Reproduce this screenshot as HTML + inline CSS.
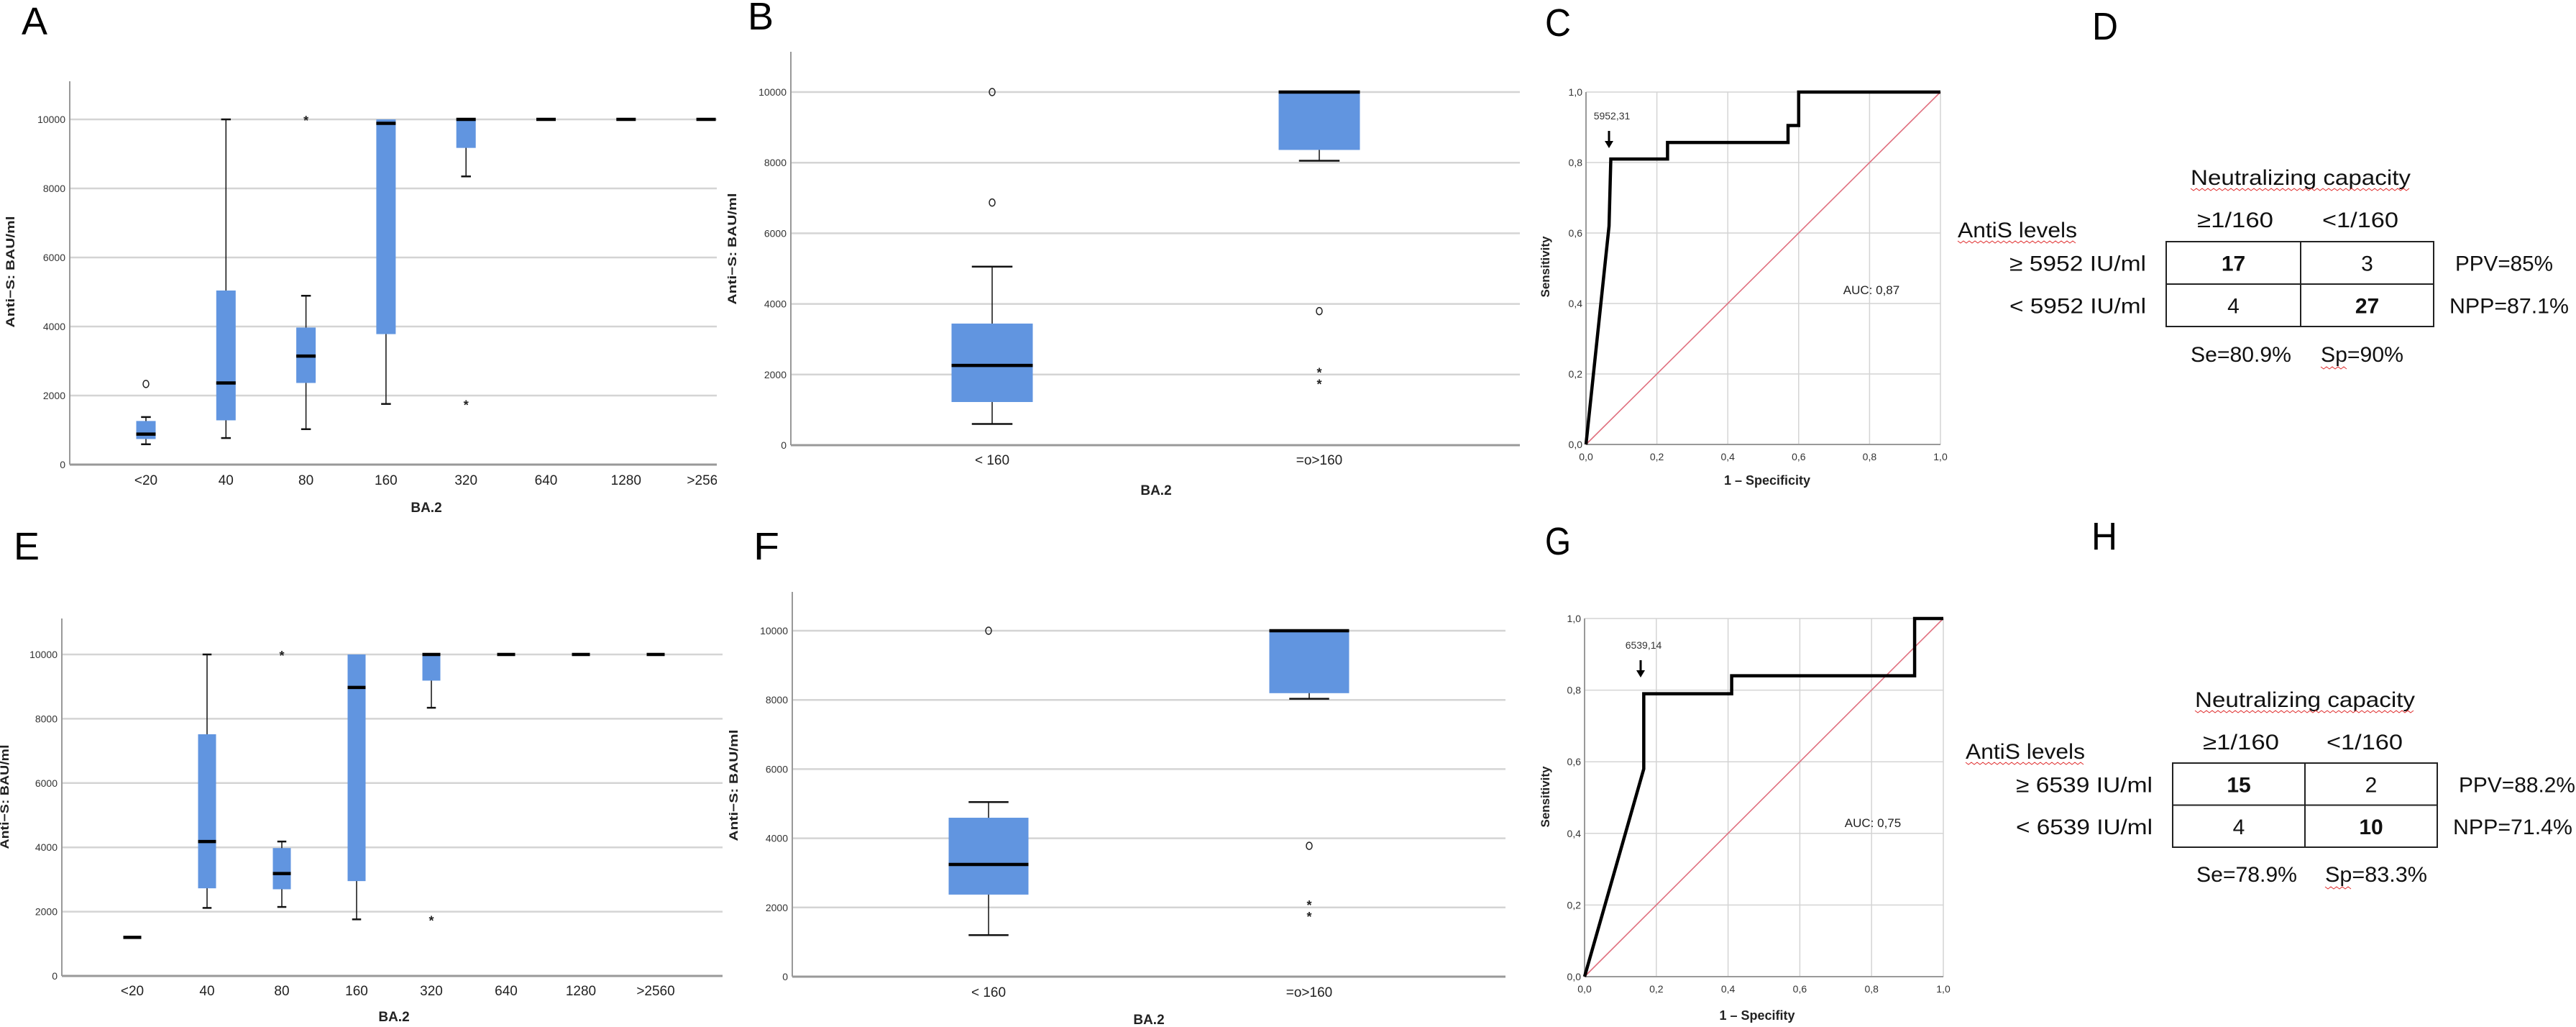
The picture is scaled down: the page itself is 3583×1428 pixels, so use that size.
<!DOCTYPE html>
<html><head><meta charset="utf-8"><title>Anti-S vs neutralizing capacity</title>
<style>
html,body{margin:0;padding:0;background:#fff;}
svg{display:block;font-family:"Liberation Sans",sans-serif;}
</style></head>
<body>
<svg id="fig" xmlns="http://www.w3.org/2000/svg" width="3583" height="1428" viewBox="0 0 3583 1428">
<defs><clipPath id="clipA"><rect x="0" y="0" width="997" height="714"/></clipPath></defs>
</svg>
<script>
// ---------- Data: Panel A (BA.2 titre categories, top row) ----------
const A_cats = ["<20","40","80","160","320","640","1280",">2560"];
const A_low  = [589, 769, 1026, 1757, 8348, 10000, 10000, 10000];
const A_q1   = [741, 1282, 2365, 3780, 9174, 10000, 10000, 10000];
const A_med  = [883, 2365, 3143, 9886, 10000, 10000, 10000, 10000];
const A_q3   = [1263, 5043, 3970, 10000, 10000, 10000, 10000, 10000];
const A_high = [1377, 10000, 4891, 10000, 10000, 10000, 10000, 10000];
const A_outCat = [0, 2, 4];
const A_outVal = [2336, 10000, 1757];
const A_outType = ["o", "*", "*"];
// ---------- Panel B ----------
const B_cats = ["< 160", "=o>160"];
const B_low  = [602, 8055];
const B_q1   = [1222, 8361];
const B_med  = [2259, 10000];
const B_q3   = [3444, 10000];
const B_high = [5055, 10000];
const B_outCat = [0, 0, 1, 1, 1];
const B_outVal = [10000, 6870, 3796, 2083, 1759];
const B_outType = ["o", "o", "o", "*", "*"];
// ---------- Panel C (ROC) ----------
const C_fpr = [0, 0.065, 0.07, 0.23, 0.23, 0.57, 0.57, 0.60, 0.60, 1.0];
const C_tpr = [0, 0.62, 0.81, 0.81, 0.857, 0.857, 0.905, 0.905, 1.0, 1.0];
// ---------- Panel E ----------
const E_cats = ["<20","40","80","160","320","640","1280",">2560"];
const E_low  = [1200, 2116, 2146, 1760, 8342, 10000, 10000, 10000];
const E_q1   = [1200, 2726, 2696, 2950, 9186, 10000, 10000, 10000];
const E_med  = [1200, 4181, 3184, 8973, 10000, 10000, 10000, 10000];
const E_q3   = [1200, 7518, 3978, 10000, 10000, 10000, 10000, 10000];
const E_high = [1200, 10000, 4181, 10000, 10000, 10000, 10000, 10000];
const E_outCat = [2, 4];
const E_outVal = [10000, 1760];
const E_outType = ["*", "*"];
// ---------- Panel F ----------
const F_cats = ["< 160", "=o>160"];
const F_low  = [1200, 8034];
const F_q1   = [2372, 8195];
const F_med  = [3242, 10000];
const F_q3   = [4594, 10000];
const F_high = [5047, 10000];
const F_outCat = [0, 1, 1, 1];
const F_outVal = [10000, 3781, 2098, 1767];
const F_outType = ["o", "o", "*", "*"];
// ---------- Panel G (ROC) ----------
const G_fpr = [0, 0.165, 0.165, 0.41, 0.41, 0.92, 0.92, 1.0];
const G_tpr = [0, 0.58, 0.79, 0.79, 0.84, 0.84, 1.0, 1.0];
// ---------- Y ticks ----------
const boxTicks = [0, 2000, 4000, 6000, 8000, 10000];
const rocTicks = [0, 0.2, 0.4, 0.6, 0.8, 1.0];
const rocTickLabels = ["0,0","0,2","0,4","0,6","0,8","1,0"];

const NS = "http://www.w3.org/2000/svg";
const svg = document.getElementById("fig");
function mk(tag, attrs, name, parent) {
  const el = document.createElementNS(NS, tag);
  for (const k in attrs) el.setAttribute(k, attrs[k]);
  
  
  (parent || svg).appendChild(el);
  return el;
}
function txt(x, y, s, attrs, name, parent) {
  const el = mk("text", Object.assign({x: x, y: y}, attrs), name, parent);
  el.textContent = s;
  return el;
}
const BLUE = "#6195e0", GRID = "#d4d4d4";

function boxPanel(p, d) {
  const g = mk("g", {}, p.name);
  const yS = v => p.y0 + (p.y10 - p.y0) * v / 10000;
  const xS = i => p.xStart + i * p.step;
  // gridlines
  boxTicks.forEach(t => {
    if (t > 0) mk("line", {x1: p.ax, x2: p.right, y1: yS(t), y2: yS(t), stroke: GRID, "stroke-width": 2.5}, "gridline-" + t, g);
    txt(p.ax - 6, yS(t) + 5, String(t), {"font-size": 14, fill: "#333", "text-anchor": "end"}, "y-tick-" + t, g);
  });
  mk("line", {x1: p.ax, x2: p.ax, y1: p.top, y2: p.y0, stroke: "#999", "stroke-width": 2}, "y-axis", g);
  mk("line", {x1: p.ax, x2: p.right, y1: p.y0, y2: p.y0, stroke: "#999", "stroke-width": 3}, "x-axis", g);
  d.cats.forEach((c, i) => {
    const cx = xS(i), w = p.bw;
    mk("line", {x1: cx, x2: cx, y1: yS(d.low[i]), y2: yS(d.high[i]), stroke: "#111", "stroke-width": 1.5}, "whisker-" + i, g);
    if (d.high[i] > d.q3[i]) mk("line", {x1: cx - w * 0.25, x2: cx + w * 0.25, y1: yS(d.high[i]), y2: yS(d.high[i]), stroke: "#111", "stroke-width": 2.5}, "cap-high-" + i, g);
    if (d.low[i] < d.q1[i]) mk("line", {x1: cx - w * 0.25, x2: cx + w * 0.25, y1: yS(d.low[i]), y2: yS(d.low[i]), stroke: "#111", "stroke-width": 2.5}, "cap-low-" + i, g);
    mk("rect", {x: cx - w / 2, y: yS(d.q3[i]), width: w, height: Math.max(0, yS(d.q1[i]) - yS(d.q3[i])), fill: BLUE}, "box-" + i, g);
    mk("line", {x1: cx - w / 2, x2: cx + w / 2, y1: yS(d.med[i]), y2: yS(d.med[i]), stroke: "#000", "stroke-width": 4.5}, "median-" + i, g);
    const lab = txt(cx, p.labY, c, {"font-size": 19, fill: "#222", "text-anchor": "middle"}, "x-label-" + i, g);
    if (p.clip) lab.setAttribute("clip-path", "url(#clipA)");
  });
  d.outCat.forEach((ci, k) => {
    const cx = xS(ci), cy = yS(d.outVal[k]);
    if (d.outType[k] === "o") mk("ellipse", {cx: cx, cy: cy, rx: 4, ry: 5, fill: "none", stroke: "#222", "stroke-width": 1.5}, "outlier-" + k, g);
    else txt(cx, cy + 8, "*", {"font-size": 18, "text-anchor": "middle", fill: "#222", "font-weight": "bold"}, "extreme-" + k, g);
  });
  txt(p.titleX, p.titleY, "BA.2", {"font-size": 19, "text-anchor": "middle", fill: "#222", "font-weight": "bold"}, "x-axis-title", g);
  txt(0, 0, "Anti\u2212S:  BAU/ml", {"font-size": 17, "font-weight": "bold", fill: "#222", "text-anchor": "middle",
    transform: "translate(" + p.ytX + "," + p.ytY + ") rotate(-90)", "textLength": p.ytLen, "lengthAdjust": "spacingAndGlyphs"}, "y-axis-title", g);
}

function rocPanel(p, fpr, tpr) {
  const g = mk("g", {}, p.name);
  const xS = v => p.x0 + (p.x1 - p.x0) * v;
  const yS = v => p.y0 + (p.y1 - p.y0) * v;
  rocTicks.forEach((t, i) => {
    if (t > 0) {
      mk("line", {x1: xS(t), x2: xS(t), y1: yS(0), y2: yS(1), stroke: GRID, "stroke-width": 1.5}, "v-grid-" + i, g);
      mk("line", {x1: xS(0), x2: xS(1), y1: yS(t), y2: yS(t), stroke: GRID, "stroke-width": 1.5}, "h-grid-" + i, g);
    }
    txt(xS(0) - 5, yS(t) + 5, rocTickLabels[i], {"font-size": 14, fill: "#333", "text-anchor": "end"}, "y-tick-" + i, g);
    txt(xS(t), p.tickY, rocTickLabels[i], {"font-size": 14, fill: "#333", "text-anchor": "middle"}, "x-tick-" + i, g);
  });
  mk("line", {x1: xS(0), x2: xS(0), y1: yS(0), y2: yS(1), stroke: "#999", "stroke-width": 2}, "y-axis", g);
  mk("line", {x1: xS(0), x2: xS(1), y1: yS(0), y2: yS(0), stroke: "#999", "stroke-width": 2}, "x-axis", g);
  mk("line", {x1: xS(0), y1: yS(0), x2: xS(1), y2: yS(1), stroke: "#e0707f", "stroke-width": 1.6}, "reference-line", g);
  mk("polyline", {points: fpr.map((f, i) => xS(f) + "," + yS(tpr[i])).join(" "), fill: "none", stroke: "#000", "stroke-width": 4.5, "stroke-linejoin": "miter"}, "roc-curve", g);
  txt(p.annX, p.annY, p.ann, {"font-size": 14, fill: "#333", "text-anchor": "middle"}, "cutoff-label", g);
  mk("line", {x1: p.annX - 4, x2: p.annX - 4, y1: p.annY + 16, y2: p.annY + 32, stroke: "#000", "stroke-width": 3}, "cutoff-arrow-shaft", g);
  mk("polygon", {points: (p.annX - 10) + "," + (p.annY + 30) + " " + (p.annX + 2) + "," + (p.annY + 30) + " " + (p.annX - 4) + "," + (p.annY + 40), fill: "#000"}, "cutoff-arrow-head", g);
  txt(p.aucX, p.aucY, p.auc, {"font-size": 17, fill: "#222", "text-anchor": "middle"}, "auc-label", g);
  txt(p.xtX, p.xtY, p.xt, {"font-size": 18, "font-weight": "bold", fill: "#222", "text-anchor": "middle"}, "x-axis-title", g);
  txt(0, 0, "Sensitivity", {"font-size": 17, "font-weight": "bold", fill: "#222", "text-anchor": "middle",
    transform: "translate(" + p.ytX + "," + p.ytY + ") rotate(-90)"}, "y-axis-title", g);
}

function tablePanel(p) {
  const g = mk("g", {}, p.name);
  const F = {"font-size": 30, fill: "#111"};
  const sq = (x1, x2, y, nm) => {
    let pts = [];
    for (let x = x1, k = 0; x <= x2; x += 4, k++) pts.push(x + "," + (y + (k % 2 ? 2 : -1)));
    mk("polyline", {points: pts.join(" "), fill: "none", stroke: "#e03030", "stroke-width": 1}, nm, g);
  };
  txt(p.ncX, p.ncY, "Neutralizing capacity", Object.assign({"text-anchor": "middle", textLength: 306, lengthAdjust: "spacingAndGlyphs"}, F), "neutralizing-capacity-header", g);
  sq(p.ncX - 153, p.ncX + 153, p.ncY + 6, "spell-underline-1");
  txt(p.c1X, p.hY, "\u22651/160", Object.assign({"text-anchor": "middle", textLength: 106, lengthAdjust: "spacingAndGlyphs"}, F), "col-header-1", g);
  txt(p.c2X, p.hY, "<1/160", Object.assign({"text-anchor": "middle", textLength: 106, lengthAdjust: "spacingAndGlyphs"}, F), "col-header-2", g);
  txt(p.alX, p.alY, "AntiS levels", Object.assign({textLength: 166, lengthAdjust: "spacingAndGlyphs"}, F), "antis-levels-label", g);
  sq(p.alX, p.alX + 166, p.alY + 6, "spell-underline-2");
  mk("rect", {x: p.tL, y: p.tT, width: p.tR - p.tL, height: p.tB - p.tT, fill: "none", stroke: "#222", "stroke-width": 2}, "table-border", g);
  mk("line", {x1: p.tM, x2: p.tM, y1: p.tT, y2: p.tB, stroke: "#222", "stroke-width": 2}, "table-col-divider", g);
  const tMid = (p.tT + p.tB) / 2;
  mk("line", {x1: p.tL, x2: p.tR, y1: tMid, y2: tMid, stroke: "#222", "stroke-width": 2}, "table-row-divider", g);
  const r1 = p.tT + (tMid - p.tT) / 2 + 11, r2 = tMid + (tMid - p.tT) / 2 + 11;
  txt(p.rlR, r1, p.row1, Object.assign({"text-anchor": "end", textLength: 190, lengthAdjust: "spacingAndGlyphs"}, F), "row-label-1", g);
  txt(p.rlR, r2, p.row2, Object.assign({"text-anchor": "end", textLength: 190, lengthAdjust: "spacingAndGlyphs"}, F), "row-label-2", g);
  const c1 = (p.tL + p.tM) / 2, c2 = (p.tM + p.tR) / 2;
  txt(c1, r1, p.v[0], Object.assign({"text-anchor": "middle", "font-weight": "bold"}, F), "cell-tp", g);
  txt(c2, r1, p.v[1], Object.assign({"text-anchor": "middle"}, F), "cell-fp", g);
  txt(c1, r2, p.v[2], Object.assign({"text-anchor": "middle"}, F), "cell-fn", g);
  txt(c2, r2, p.v[3], Object.assign({"text-anchor": "middle", "font-weight": "bold"}, F), "cell-tn", g);
  txt(p.tR + 30, r1, p.ppv, Object.assign({textLength: p.ppvW, lengthAdjust: "spacingAndGlyphs"}, F), "ppv-label", g);
  txt(p.tR + 22, r2, p.npp, Object.assign({textLength: p.nppW, lengthAdjust: "spacingAndGlyphs"}, F), "npp-label", g);
  txt(p.seX, p.sY, p.se, Object.assign({textLength: 140, lengthAdjust: "spacingAndGlyphs"}, F), "sensitivity-value", g);
  txt(p.spX, p.sY, p.sp, Object.assign({textLength: p.spW, lengthAdjust: "spacingAndGlyphs"}, F), "specificity-value", g);
  sq(p.spX, p.spX + 36, p.sY + 8, "spell-underline-3");
}

function letter(x, y, s) {
  txt(x, y, s, {"font-size": 54, fill: "#000", textLength: 36, lengthAdjust: "spacingAndGlyphs"}, "panel-letter-" + s.toLowerCase());
}

boxPanel({name: "panel-a", ax: 97, right: 997, y0: 646, y10: 166, top: 113, xStart: 203, step: 111.3, bw: 27, labY: 674, titleX: 593, titleY: 712, ytX: 20, ytY: 378, ytLen: 155, clip: true},
  {cats: A_cats, low: A_low, q1: A_q1, med: A_med, q3: A_q3, high: A_high, outCat: A_outCat, outVal: A_outVal, outType: A_outType});
boxPanel({name: "panel-b", ax: 1100, right: 2114, y0: 619, y10: 128, top: 72, xStart: 1380, step: 455, bw: 113, labY: 646, titleX: 1608, titleY: 688, ytX: 1024, ytY: 346, ytLen: 155},
  {cats: B_cats, low: B_low, q1: B_q1, med: B_med, q3: B_q3, high: B_high, outCat: B_outCat, outVal: B_outVal, outType: B_outType});
rocPanel({name: "panel-c", x0: 2206, x1: 2699, y0: 618, y1: 128, tickY: 640, ann: "5952,31", annX: 2242, annY: 166, auc: "AUC: 0,87", aucX: 2603, aucY: 409, xt: "1 \u2013 Specificity", xtX: 2458, xtY: 674, ytX: 2155, ytY: 371}, C_fpr, C_tpr);
tablePanel({name: "panel-d", ncX: 3200, ncY: 257, c1X: 3109, c2X: 3283, hY: 316, alX: 2723, alY: 330, tL: 3013, tR: 3385, tM: 3200, tT: 336, tB: 454, rlR: 2985,
  row1: "\u2265 5952 IU/ml", row2: "< 5952 IU/ml", v: ["17", "3", "4", "27"], ppv: "PPV=85%", ppvW: 136, npp: "NPP=87.1%", nppW: 166,
  seX: 3047, spX: 3228, sY: 503, se: "Se=80.9%", sp: "Sp=90%", spW: 115});

boxPanel({name: "panel-e", ax: 86, right: 1005, y0: 1357, y10: 910, top: 860, xStart: 184, step: 104, bw: 25, labY: 1384, titleX: 548, titleY: 1420, ytX: 12, ytY: 1108, ytLen: 145},
  {cats: E_cats, low: E_low, q1: E_q1, med: E_med, q3: E_q3, high: E_high, outCat: E_outCat, outVal: E_outVal, outType: E_outType});
boxPanel({name: "panel-f", ax: 1102, right: 2094, y0: 1358, y10: 877, top: 823, xStart: 1375, step: 446, bw: 111, labY: 1386, titleX: 1598, titleY: 1424, ytX: 1026, ytY: 1092, ytLen: 155},
  {cats: F_cats, low: F_low, q1: F_q1, med: F_med, q3: F_q3, high: F_high, outCat: F_outCat, outVal: F_outVal, outType: F_outType});
rocPanel({name: "panel-g", x0: 2204, x1: 2703, y0: 1358, y1: 860, tickY: 1380, ann: "6539,14", annX: 2286, annY: 902, auc: "AUC: 0,75", aucX: 2605, aucY: 1150, xt: "1 \u2013 Specifity", xtX: 2444, xtY: 1418, ytX: 2155, ytY: 1108}, G_fpr, G_tpr);
tablePanel({name: "panel-h", ncX: 3206, ncY: 983, c1X: 3117, c2X: 3289, hY: 1042, alX: 2734, alY: 1055, tL: 3022, tR: 3390, tM: 3206, tT: 1061, tB: 1178, rlR: 2994,
  row1: "\u2265 6539 IU/ml", row2: "< 6539 IU/ml", v: ["15", "2", "4", "10"], ppv: "PPV=88.2%", ppvW: 162, npp: "NPP=71.4%", nppW: 166,
  seX: 3055, spX: 3234, sY: 1226, se: "Se=78.9%", sp: "Sp=83.3%", spW: 142});

letter(30, 48, "A"); letter(1040, 41, "B"); letter(2149, 50, "C"); letter(2910, 55, "D");
letter(19, 778, "E"); letter(1048, 778, "F"); letter(2149, 771, "G"); letter(2909, 764, "H");
</script>
</body></html>
